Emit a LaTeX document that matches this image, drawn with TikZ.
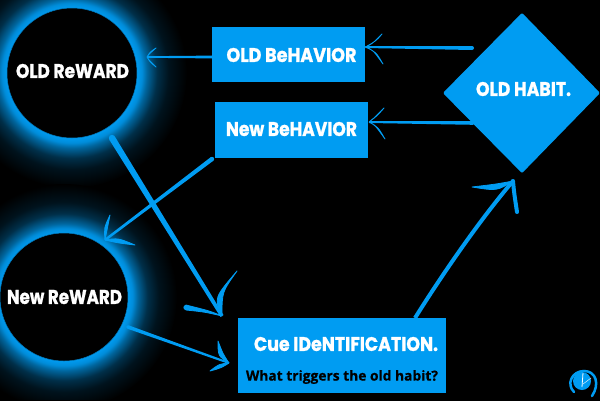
\documentclass[tikz,border=0pt]{standalone}
\usepackage{graphicx}
\usepackage{fontspec}
\usetikzlibrary{shapes.geometric,calc}
\newfontfamily\dispfont[FakeBold=1.2]{Poppins Bold}
\newfontfamily\subfont[FakeBold=0.6]{Open Sans Bold}
\definecolor{habitblue}{HTML}{009CF2}
\pgfdeclareradialshading{glowA}{\pgfpoint{0bp}{0bp}}{
  color(0bp)=(habitblue);
  color(14bp)=(habitblue);
  color(15.2bp)=(habitblue!90!black);
  color(16.3bp)=(habitblue!65!black);
  color(18.5bp)=(habitblue!30!black);
  color(21bp)=(habitblue!12!black);
  color(24bp)=(habitblue!3!black);
  color(25bp)=(black);
  color(50bp)=(black)}
\newcommand{\disptext}[3]{\resizebox{#1pt}{#2pt}{\dispfont #3}}
\newcommand{\taper}[4]{%
  \fill[habitblue] ($(#1)!#3pt!90:(#2)$) -- ($(#2)!#4pt!-90:(#1)$) -- ($(#2)!#4pt!90:(#1)$) -- ($(#1)!#3pt!-90:(#2)$) -- cycle;
  \fill[habitblue] (#1) circle (#3pt);}
\newcommand{\barb}[4]{% tip, ctrl1, end, ctrl2
  \filldraw[habitblue,line width=.8pt,line join=round] (#1) .. controls (#2) .. (#3) .. controls (#4) .. (#1);}
\tikzset{
  x=1pt,y=-1pt,
  ring/.style={circle,fill=black,draw=habitblue!80!black,line width=.5pt,inner sep=0pt,minimum size=#1},
  bluebox/.style={rectangle,fill=habitblue,inner sep=0pt,anchor=north west},
  label/.style={text=white,inner sep=0pt},
  shaft/.style={draw=habitblue,line cap=round}
}
\begin{document}
\begin{tikzpicture}
\useasboundingbox (0,0) rectangle (600,400);
\fill[black] (-2,-2) rectangle (602,402);
% glows
\begin{scope}
\clip (0,0) rectangle (600,400);
\path[shading=glowA] (72,73) circle (115);
\path[shading=glowA] (64,297) circle (113);
\end{scope}
\fill[black] (-2,399.5) rectangle (602,402);
% nodes
\node[ring=130pt] (oldreward) at (72,73) {};
\node[ring=128pt] (newreward) at (64,297) {};
\node[bluebox,minimum width=153pt,minimum height=55pt] (oldbeh) at (212,27) {};
\node[bluebox,minimum width=153pt,minimum height=56pt] (newbeh) at (215,102) {};
\node[bluebox,minimum width=208pt,minimum height=75pt] (cue) at (238,318) {};
\filldraw[habitblue,line width=3pt,line join=round] (522,15) -- (598,93) -- (522,171) -- (445,93) -- cycle;
\coordinate (habit) at (522,93);
% labels
\node[label] (t1) at (72.5,71) {\disptext{113}{14}{OLD ReWARD}};
\node[label] (t2) at (64.5,297) {\disptext{115}{14}{New ReWARD}};
\node[label] (t3) at (291.5,55) {\disptext{130}{14}{OLD BeHAVIOR}};
\node[label] (t4) at (291.5,129) {\disptext{131}{14}{New BeHAVIOR}};
\node[label] (t5) at (523.5,89) {\disptext{95}{14}{OLD HABIT.}};
\node[label] (t6) at (346,344) {\disptext{184}{14}{Cue IDeNTIFICATION.}};
\node[text=black,inner sep=0pt] (t7) at (342,377) {\resizebox{192pt}{!}{\subfont What triggers the old habit?}};
% connector ends
\coordinate (a1s) at (oldbeh.west |- 0,57);
\coordinate (a1t) at (147,57);
\coordinate (a2s) at (472,48);
\coordinate (a2t) at (oldbeh.east |- 0,47);
\coordinate (a3s) at (473,123);
\coordinate (a3t) at (369,122);
\coordinate (a4s) at (212,159);
\coordinate (a4t) at (105,240);
\coordinate (a5s) at (112,138);
\coordinate (a5t) at (222,316);
\coordinate (a6s) at (128,327);
\coordinate (a6t) at (229,363);
\coordinate (a7s) at (415,318);
\coordinate (a7t) at (513,181);
% old behavior -> old reward
\taper{a1s}{a1t}{1.4}{0.8}
\barb{a1t}{150,52}{156,48}{148,55}
\barb{a1t}{150,62}{156,67}{148,59}
% old habit -> old behavior
\taper{a2s}{a2t}{2}{1}
\barb{a2t}{376,41}{382,34}{372,44}
\barb{a2t}{376,52}{383,64}{373,50}
% old habit -> new behavior
\taper{a3s}{a3t}{1.8}{1}
\barb{a3t}{377,116}{384,108}{373,119}
\barb{a3t}{378,127}{385,139}{375,125}
% new behavior -> new reward
\taper{a4s}{a4t}{2.2}{1.2}
\barb{a4t}{108,228}{110,215}{104,228}
\barb{a4t}{118,238}{135,245}{118,243}
% old reward -> cue
\taper{a5s}{a5t}{3.2}{1.8}
\barb{a5t}{222,292}{237,271}{214,298}
\filldraw[habitblue,line width=.8pt,line join=round] (a5t) .. controls (210,311) .. (186,305) -- (186,310) .. controls (205,312) .. (a5t);
\fill[habitblue] (186,307.5) circle (2.6pt);
% new reward -> cue
\taper{a6s}{a6t}{1.8}{1}
\barb{a6t}{223,354}{218,341}{218,356}
\barb{a6t}{219,364}{210,371}{221,368}
% cue -> old habit
\draw[shaft,line width=4pt,line cap=butt] (a7s) .. controls (440,278) and (478,222) .. (a7t);
\barb{a7t}{497,184}{472,187}{497,191}
\draw[shaft,line width=4pt] (a7t) .. controls (514,192) .. (517,212);
% logo
\fill[habitblue] (582,381) circle (9pt);
\draw[habitblue,line width=2.5pt,line cap=round] (574,392) .. controls (566,384) and (572,371) .. (584,371) .. controls (596,371) and (600,384) .. (592,396);
\draw[white,line width=.8pt] (583,373) -- (582,387);
\draw[white,line width=.4pt] (583,384) -- (591,378);
\end{tikzpicture}
\end{document}
